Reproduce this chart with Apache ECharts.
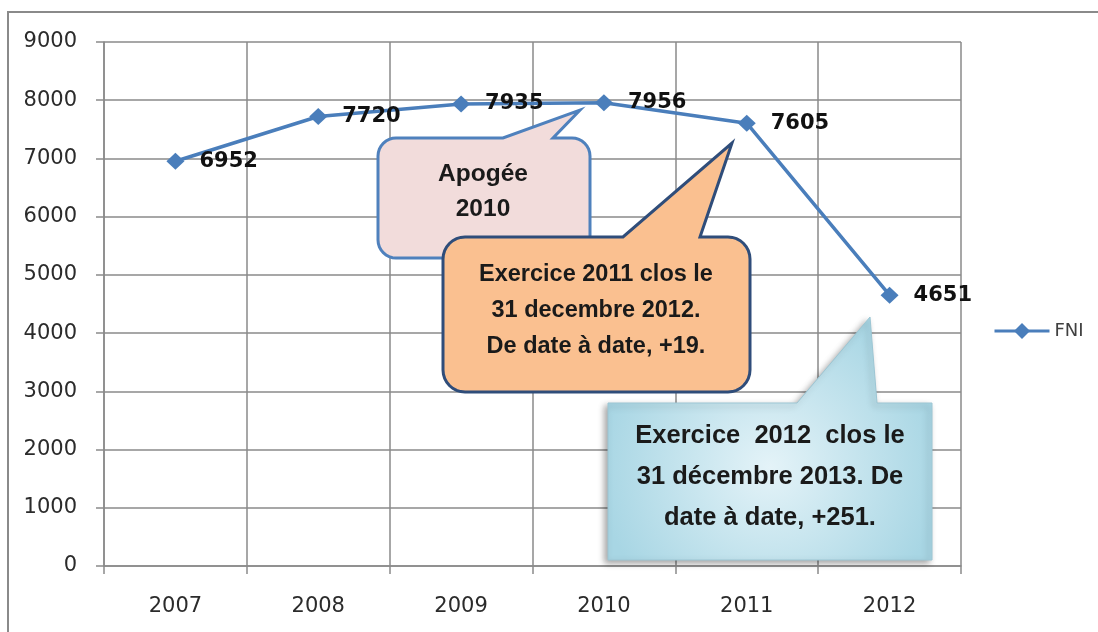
<!DOCTYPE html>
<html>
<head>
<meta charset="utf-8">
<script src="https://cdn.jsdelivr.net/npm/echarts@6/dist/echarts.min.js"></script>
<style>html,body{margin:0;padding:0;background:#fff;}</style>
</head>
<body>
<div id="main" style="width:1098px;height:632px;"></div>
<script type="text/javascript">
// données
var annees = ['2007', '2008', '2009', '2010', '2011', '2012'];
var fni = [6952, 7720, 7935, 7956, 7605, 4651];
var serieNom = 'FNI';

// bulle : rectangle arrondi + pointe sur le bord haut
function bulle(x, y, w, h, r, b1, b2, tx, ty) {
    var pts = [[x + r, y], [b1, y], [tx, ty], [b2, y], [x + w - r, y]];
    function arc(cx, cy, a0, a1) {
        for (var i = 0; i <= 8; i++) {
            var a = (a0 + (a1 - a0) * i / 8) * Math.PI / 180;
            pts.push([cx + r * Math.cos(a), cy + r * Math.sin(a)]);
        }
    }
    if (r > 0) {
        arc(x + w - r, y + r, -90, 0);
        arc(x + w - r, y + h - r, 0, 90);
        arc(x + r, y + h - r, 90, 180);
        arc(x + r, y + r, 180, 270);
    } else {
        pts.push([x + w, y], [x + w, y + h], [x, y + h], [x, y]);
    }
    return pts;
}

var police = '"Liberation Sans", Arial, sans-serif';
var txt = function (t, x, y, lh, size) {
    return {
        type: 'text', z: 101,
        style: {
            text: t, x: x, y: y, align: 'center', verticalAlign: 'middle',
            lineHeight: lh, fill: '#1a1a1a',
            font: 'bold ' + size + 'px ' + police
        }
    };
};

var myChart = echarts.init(document.getElementById('main'));

var option = {
    backgroundColor: '#fff',
    animation: false,
    grid: { left: 104, right: 137, top: 42, bottom: 66 },
    legend: {
        data: [serieNom],
        left: 988, top: 317,
        itemWidth: 55, itemHeight: 20, itemGap: 5,
        lineStyle: { width: 3 },
        textStyle: { fontFamily: 'DejaVu Sans', fontSize: 18, color: '#404040' }
    },
    xAxis: {
        type: 'category',
        data: annees,
        boundaryGap: true,
        axisLine: { lineStyle: { color: '#8a8a8a', width: 1.5 } },
        axisTick: { show: true, length: 8, lineStyle: { color: '#8a8a8a', width: 1.5 } },
        splitLine: { show: true, lineStyle: { color: '#8a8a8a', width: 1.5 } },
        axisLabel: { margin: 30, fontFamily: 'DejaVu Sans', fontSize: 21, color: '#2b2b2b' }
    },
    yAxis: {
        type: 'value',
        min: 0, max: 9000, interval: 1000,
        axisLine: { show: true, lineStyle: { color: '#8a8a8a', width: 1.5 } },
        axisTick: { show: true, length: 8, lineStyle: { color: '#8a8a8a', width: 1.5 } },
        splitLine: { show: true, lineStyle: { color: '#8a8a8a', width: 1.5 } },
        axisLabel: {
            margin: 27, fontFamily: 'DejaVu Sans', fontSize: 21, color: '#2b2b2b',
            formatter: function (v) { return String(v); }
        }
    },
    series: [{
        name: serieNom,
        type: 'line',
        data: fni,
        symbol: 'diamond',
        symbolSize: [18, 17],
        lineStyle: { color: '#4a7ebb', width: 3.5 },
        itemStyle: { color: '#4a7ebb' },
        label: {
            show: true, position: 'right', distance: 15,
            fontFamily: 'DejaVu Sans', fontWeight: 'bold', fontSize: 21, color: '#111'
        }
    }],
    graphic: [
        // cadre extérieur
        { type: 'rect', z: 0, silent: true,
          shape: { x: 8, y: 12, width: 1200, height: 700 },
          style: { fill: 'none', stroke: '#8a8a8a', lineWidth: 2 } },
        // Apogée 2010
        { type: 'polygon', z: 100,
          shape: { points: bulle(378, 138, 212, 120, 18, 503, 553, 580, 110) },
          style: { fill: '#f2dcdb', stroke: '#4f81bd', lineWidth: 3 } },
        txt('Apogée\n2010', 483, 192, 35, 24.5),
        // Exercice 2011
        { type: 'polygon', z: 100,
          shape: { points: bulle(443, 237, 307, 155, 22, 623, 700, 732, 143) },
          style: { fill: '#fac090', stroke: '#2f4d7a', lineWidth: 3 } },
        txt('Exercice 2011 clos le\n31 decembre 2012.\nDe date à date, +19.', 596, 311, 36, 23.5),
        // Exercice 2012
        { type: 'polygon', z: 100,
          shape: { points: bulle(608, 403, 324, 157, 0, 797, 877, 870, 317) },
          style: {
              fill: { type: 'radial', x: 0.5, y: 0.62, r: 0.7,
                      colorStops: [{ offset: 0, color: '#e4f3f8' }, { offset: 1, color: '#a8d6e4' }] },
              stroke: '#9cc6d4', lineWidth: 1,
              shadowBlur: 6, shadowColor: 'rgba(0,0,0,0.35)', shadowOffsetX: -3, shadowOffsetY: 3
          } },
        txt('Exercice  2012  clos le\n31 décembre 2013. De\ndate à date, +251.', 770, 477, 41, 25.5)
    ]
};

myChart.setOption(option);
</script>
</body>
</html>
